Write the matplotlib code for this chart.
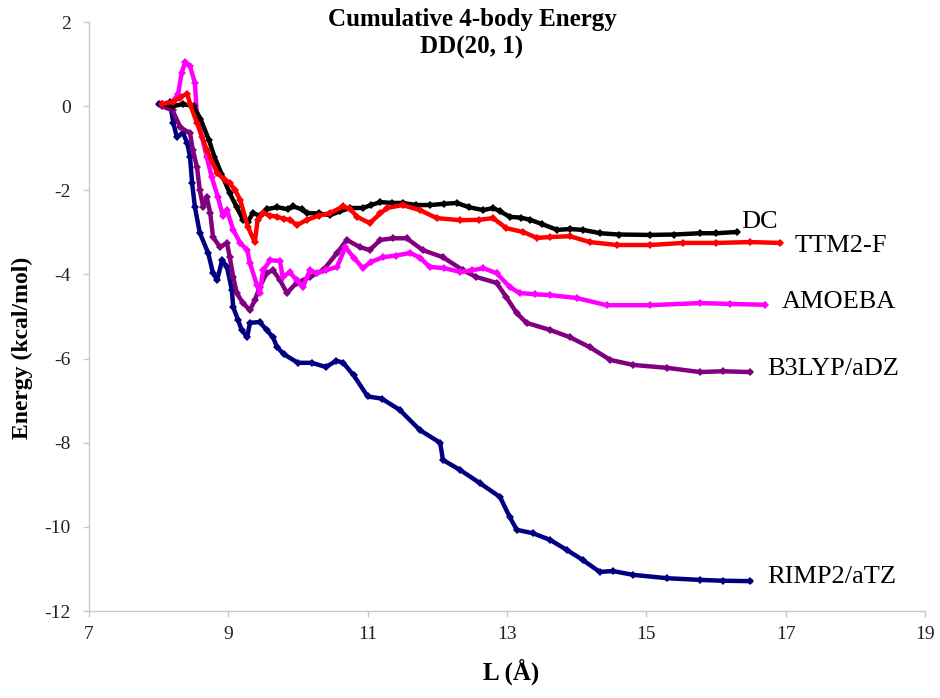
import matplotlib
matplotlib.use("Agg")
from matplotlib import pyplot as plt

plt.rcParams['font.family'] = ['Liberation Serif', 'DejaVu Serif']
plt.rcParams['axes.unicode_minus'] = False

# ---- data (L in Angstrom, energy in kcal/mol) ----
dc_x = [8.05, 8.2, 8.35, 8.5, 8.6, 8.72, 8.8, 8.9, 9.02, 9.12, 9.21, 9.28, 9.35, 9.45, 9.55,
        9.7, 9.85, 9.93, 10.05, 10.13, 10.3, 10.46, 10.6, 10.75, 10.93, 11.05, 11.18, 11.35,
        11.5, 11.7, 11.9, 12.1, 12.28, 12.45, 12.66, 12.8, 12.9, 13.04, 13.2, 13.33, 13.5,
        13.72, 13.9, 14.09, 14.34, 14.6, 15.05, 15.4, 15.77, 16.0, 16.3]
dc_y = [0.05, 0.0, 0.05, 0.0, -0.3, -0.8, -1.2, -1.6, -2.07, -2.4, -2.7, -2.75, -2.54, -2.6,
        -2.45, -2.4, -2.45, -2.38, -2.45, -2.54, -2.55, -2.59, -2.5, -2.42, -2.42, -2.35,
        -2.28, -2.3, -2.3, -2.35, -2.35, -2.32, -2.3, -2.4, -2.47, -2.42, -2.5, -2.63, -2.65,
        -2.7, -2.8, -2.94, -2.92, -2.94, -3.02, -3.05, -3.06, -3.05, -3.02, -3.02, -2.99]

ttm_x = [8.05, 8.2, 8.3, 8.41, 8.45, 8.55, 8.69, 8.84, 8.95, 9.02, 9.1, 9.17, 9.28, 9.38, 9.42,
         9.5, 9.6, 9.7, 9.8, 9.89, 9.98, 10.13, 10.3, 10.46, 10.65, 10.75, 10.85, 11.03, 11.18,
         11.28, 11.5, 11.75, 11.99, 12.33, 12.6, 12.8, 12.99, 13.23, 13.43, 13.62, 13.9, 14.19,
         14.58, 15.05, 15.53, 16.0, 16.49, 16.92]
ttm_y = [0.05, 0.1, 0.2, 0.3, 0.05, -0.4, -1.04, -1.59, -1.75, -1.83, -2.0, -2.23, -2.87, -3.23,
         -2.7, -2.54, -2.6, -2.63, -2.68, -2.7, -2.83, -2.7, -2.6, -2.54, -2.38, -2.45, -2.63,
         -2.78, -2.55, -2.42, -2.35, -2.47, -2.66, -2.71, -2.7, -2.66, -2.9, -2.99, -3.13, -3.11,
         -3.09, -3.23, -3.3, -3.3, -3.25, -3.25, -3.23, -3.25]

amoeba_x = [8.1, 8.2, 8.28, 8.33, 8.38, 8.45, 8.52, 8.55, 8.62, 8.69, 8.76, 8.85, 8.92, 8.98,
            9.07, 9.17, 9.27, 9.31, 9.41, 9.45, 9.5, 9.6, 9.74, 9.78, 9.88, 9.98, 10.07, 10.17,
            10.27, 10.4, 10.56, 10.68, 10.8, 10.93, 11.05, 11.22, 11.4, 11.61, 11.75, 11.89,
            12.1, 12.33, 12.5, 12.66, 12.85, 13.04, 13.18, 13.4, 13.62, 14.0, 14.43, 15.05,
            15.77, 16.2, 16.7]
amoeba_y = [0.05, 0.1, 0.3, 0.8, 1.05, 0.95, 0.55, -0.26, -0.73, -1.21, -1.68, -2.16, -2.6,
            -2.47, -2.94, -3.25, -3.42, -3.73, -4.25, -4.44, -3.9, -3.66, -3.68, -4.06, -3.95,
            -4.13, -4.3, -3.9, -3.97, -3.9, -3.82, -3.35, -3.6, -3.85, -3.7, -3.59, -3.55,
            -3.49, -3.6, -3.82, -3.85, -3.94, -3.9, -3.85, -3.97, -4.3, -4.44, -4.47, -4.49,
            -4.56, -4.73, -4.73, -4.68, -4.70, -4.72]

b3lyp_x = [8.05, 8.2, 8.31, 8.45, 8.49, 8.55, 8.59, 8.64, 8.69, 8.74, 8.78, 8.88, 8.98, 9.02,
           9.07, 9.12, 9.21, 9.31, 9.38, 9.45, 9.55, 9.64, 9.74, 9.84, 9.98, 10.17, 10.36,
           10.56, 10.7, 10.89, 11.03, 11.18, 11.36, 11.56, 11.79, 12.08, 12.37, 12.56, 12.85,
           12.99, 13.14, 13.28, 13.62, 13.9, 14.19, 14.48, 14.81, 15.3, 15.77, 16.1, 16.49]
b3lyp_y = [0.0, -0.1, -0.5, -0.64, -1.04, -1.45, -2.0, -2.4, -2.16, -2.54, -3.11, -3.35, -3.25,
           -3.59, -4.06, -4.44, -4.68, -4.85, -4.61, -4.3, -3.97, -3.9, -4.13, -4.44, -4.2,
           -4.06, -3.9, -3.49, -3.18, -3.35, -3.42, -3.18, -3.14, -3.14, -3.42, -3.59, -3.9,
           -4.06, -4.2, -4.54, -4.92, -5.15, -5.32, -5.49, -5.73, -6.03, -6.15, -6.22, -6.32,
           -6.3, -6.32]

rimp2_x = [8.0, 8.1, 8.16, 8.21, 8.26, 8.35, 8.41, 8.45, 8.48, 8.52, 8.59, 8.71, 8.78, 8.84,
           8.91, 8.98, 9.05, 9.07, 9.14, 9.19, 9.27, 9.31, 9.45, 9.55, 9.64, 9.7, 9.8, 10.0,
           10.2, 10.4, 10.55, 10.65, 10.8, 11.0, 11.2, 11.46, 11.75, 12.04, 12.08, 12.33, 12.61,
           12.9, 13.04, 13.14, 13.37, 13.62, 13.86, 14.09, 14.33, 14.52, 14.81, 15.3, 15.77,
           16.1, 16.49]
rimp2_y = [0.05, 0.0, 0.1, -0.4, -0.73, -0.64, -0.88, -1.21, -1.83, -2.4, -3.01, -3.49, -3.97,
           -4.13, -3.66, -3.82, -4.37, -4.78, -5.08, -5.32, -5.49, -5.15, -5.13, -5.32, -5.49,
           -5.73, -5.9, -6.1, -6.1, -6.2, -6.05, -6.1, -6.4, -6.9, -6.95, -7.22, -7.7, -8.0,
           -8.41, -8.65, -8.96, -9.29, -9.77, -10.07, -10.15, -10.31, -10.55, -10.79, -11.07,
           -11.05, -11.14, -11.22, -11.26, -11.28, -11.29]

names = ["DC", "TTM2-F", "AMOEBA", "B3LYP/aDZ", "RIMP2/aTZ"]
colors = ["#000000", "#ff0000", "#ff00ff", "#800080", "#000080"]
label_pos = [(16.36, -2.75), (17.13, -3.33), (16.95, -4.66), (16.73, -6.25), (16.73, -11.2)]

fig = plt.figure(figsize=(9.4, 6.98), dpi=100)
ax = fig.add_axes([0.0947, 0.1246, 0.8894, 0.8438])

series = [(rimp2_x, rimp2_y, 4), (b3lyp_x, b3lyp_y, 3), (amoeba_x, amoeba_y, 2),
          (dc_x, dc_y, 0), (ttm_x, ttm_y, 1)]
for xs, ys, i in series:
    ax.plot(xs, ys, color=colors[i], lw=3.2, marker='D', ms=4, markeredgewidth=0,
            solid_joinstyle='round')

for i, name in enumerate(names):
    ax.text(label_pos[i][0], label_pos[i][1], name, fontsize=19, va='center', ha='left')

ax.set_xlim(7, 19)
ax.set_ylim(-12, 2)
ax.set_xticks(range(7, 20, 2))
ax.set_yticks(range(-12, 3, 2))
for s in ['top', 'right']:
    ax.spines[s].set_visible(False)
for s in ['left', 'bottom']:
    ax.spines[s].set_color('#c8c8c8')
    ax.spines[s].set_linewidth(1.0)
ax.tick_params(direction='out', length=4, width=1, color='#c8c8c8', labelsize=14,
               labelcolor='#222222')
ax.tick_params(axis='y', pad=9)
ax.tick_params(axis='x', pad=7)

fig.text(472 / 940, 1 - 8 / 698, "Cumulative 4-body Energy\nDD(20, 1)", ha='center', va='top',
         fontsize=18, fontweight='bold', linespacing=1.25)
fig.text(22 / 940, 1 - 348 / 698, "Energy (kcal/mol)", rotation=90, ha='center', va='center',
         fontsize=17, fontweight='bold')
fig.text(511 / 940, 1 - 672 / 698, "L (Å)", ha='center', va='center', fontsize=18,
         fontweight='bold')

plt.savefig("out.png", dpi=100)
